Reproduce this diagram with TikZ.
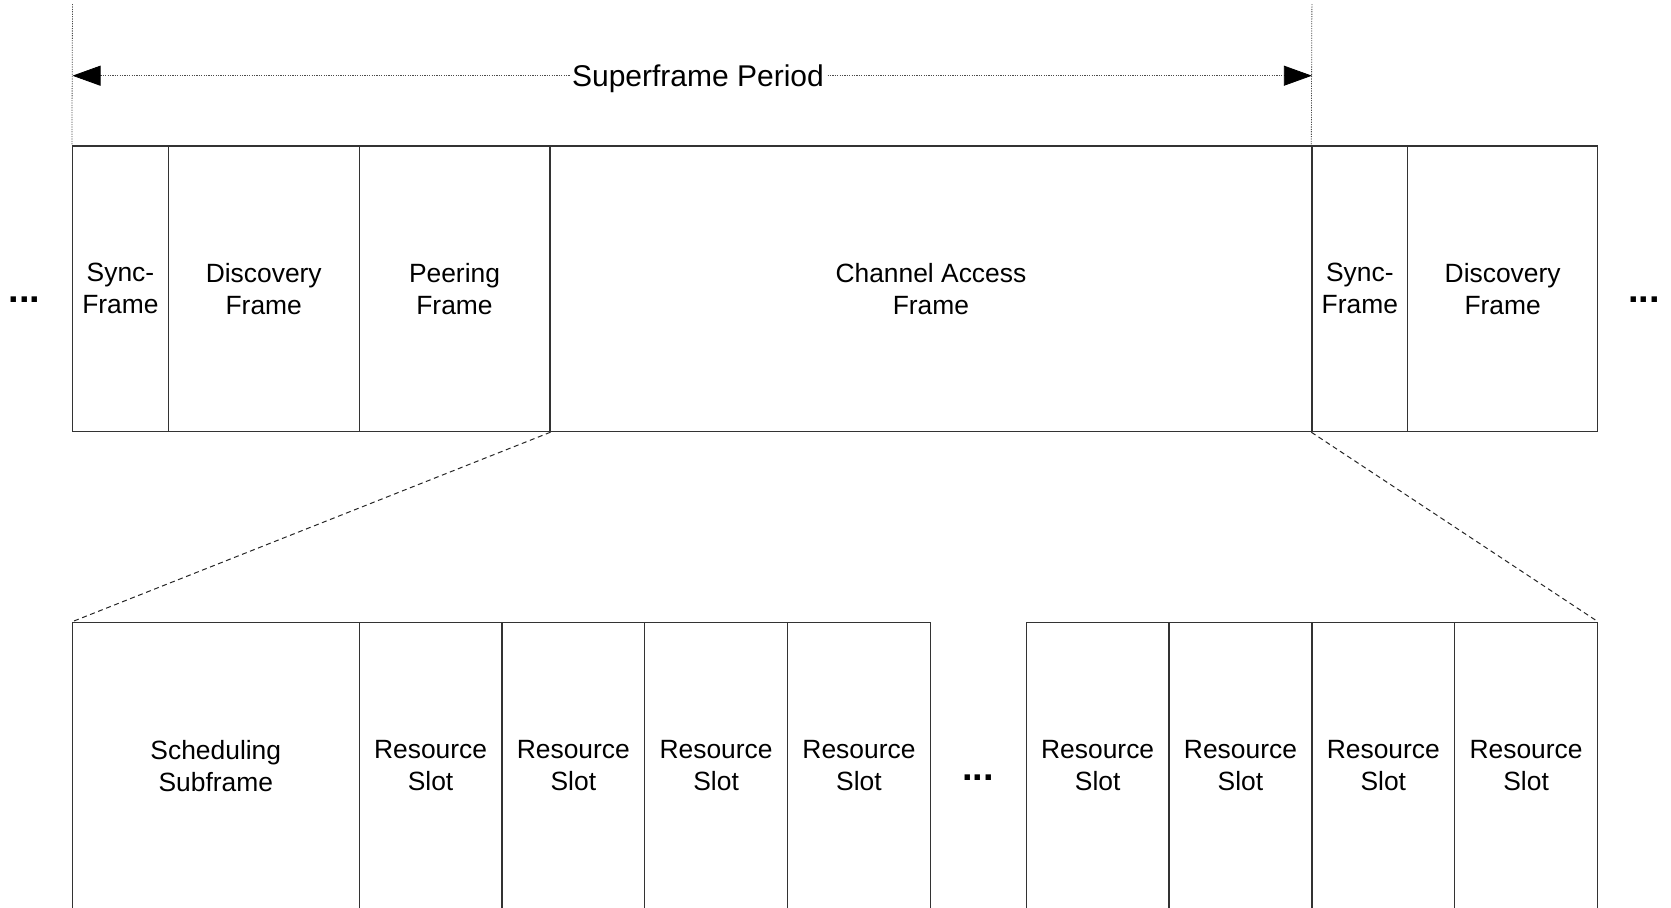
\documentclass[tikz,border=0pt]{standalone}
\usepackage{fontspec}
\setmainfont{Liberation Sans}
\usetikzlibrary{arrows.meta,fit}
\begin{document}
\begin{tikzpicture}[x=0.5pt,y=-0.5pt,
  cell/.style={draw=black!80, line width=0.6pt, inner sep=0pt},
  lbl/.style={inner sep=0pt, align=center, font=\fontsize{13.2pt}{16pt}\selectfont},
  guide/.style={draw=black!70, line width=0.4pt, dash pattern=on 0.6pt off 0.6pt},
  bigtri/.tip={Triangle[length=14pt,width=10pt,color=black]},
  zoomline/.style={draw=black!85, line width=0.5pt, dash pattern=on 2.5pt off 1.8pt},
  dots/.style={font=\fontsize{19pt}{19pt}\selectfont\bfseries, inner sep=0pt, anchor=base},
  period/.style={fill=white, inner sep=1pt, font=\fontsize{15pt}{18pt}\selectfont}
]
\useasboundingbox (0,0) rectangle (1671,907);
\clip (0,0) rectangle (1671,907);
% top row
\node[cell, fit={(72.5,146)(168.4,431.6)}] (sync1) {};
\node[cell, fit={(168.4,146)(359.1,431.6)}] (disc1) {};
\node[cell, fit={(359.1,146)(549.9,431.6)}] (peer) {};
\node[cell, fit={(549.9,146)(1311.9,431.6)}] (chan) {};
\node[cell, fit={(1311.9,146)(1407.8,431.6)}] (sync2) {};
\node[cell, fit={(1407.8,146)(1597.5,431.6)}] (disc2) {};
\node[lbl] (sync1t) at (sync1.center) {Sync-\\Frame};
\node[lbl] (disc1t) at (disc1.center) {Discovery\\Frame};
\node[lbl] (peert) at (peer.center) {Peering\\Frame};
\node[lbl] (chant) at (chan.center) {Channel Access\\Frame};
\node[lbl] (sync2t) at (sync2.center) {Sync-\\Frame};
\node[lbl] (disc2t) at (disc2.center) {Discovery\\Frame};
% bottom row
\node[cell, fit={(72.5,622.4)(359.1,909)}] (sched) {};
\node[cell, fit={(359.1,622.4)(502,909)}] (rs1) {};
\node[cell, fit={(502,622.4)(644.7,909)}] (rs2) {};
\node[cell, fit={(644.7,622.4)(787.5,909)}] (rs3) {};
\node[cell, fit={(787.5,622.4)(930.4,909)}] (rs4) {};
\node[cell, fit={(1026.3,622.4)(1169,909)}] (rs5) {};
\node[cell, fit={(1169,622.4)(1311.9,909)}] (rs6) {};
\node[cell, fit={(1311.9,622.4)(1454.7,909)}] (rs7) {};
\node[cell, fit={(1454.7,622.4)(1597.5,909)}] (rs8) {};
\node[lbl] (schedt) at (sched.center) {Scheduling\\Subframe};
\foreach \i in {1,...,8}{
  \node[lbl] (rs\i t) at (rs\i.center) {Resource\\Slot};
}
% ellipses
\node[dots] (dl) at (24.5,302) {...};
\node[dots] (dr) at (1644,302) {...};
\node[dots] (dm) at (978,780) {...};
% guides
\coordinate (gl) at (72.5,4);
\coordinate (gr) at (1311.9,4);
\draw[guide] (gl) -- (sync1.north west);
\draw[guide] (gr) -- (sync2.north west);
\coordinate (al) at (72.5,75.7);
\coordinate (ar) at (1311.9,75.7);
\draw[guide, bigtri-bigtri] (al) -- (ar);
\node[period] (sp) at (698,79) {Superframe Period};
% zoom lines
\draw[zoomline] (peer.south east) -- (sched.north west);
\draw[zoomline] (sync2.south west) -- (rs8.north east);
\end{tikzpicture}
\end{document}
